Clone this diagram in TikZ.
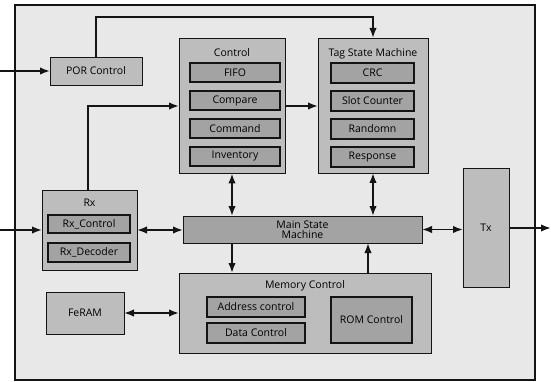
\documentclass[tikz,border=0pt]{standalone}
\usepackage{fontspec}
\setmainfont{Open Sans}
\usepackage{tikz}
\usetikzlibrary{positioning, arrows.meta}
\definecolor{paper}{gray}{0.91}
\definecolor{boxgray}{gray}{0.74}
\definecolor{subgray}{gray}{0.64}
\definecolor{dark}{gray}{0.08}

\begin{document}
\begin{tikzpicture}[x=1pt, y=-1pt,
        block/.style={rectangle, draw=dark, line width=0.9pt, fill=boxgray, outer sep=0pt, inner sep=1pt, align=center, font=\fontsize{10.5}{11}\selectfont},
        sub/.style={block, fill=subgray, line width=1.1pt},
        title/.style={anchor=north, yshift=-5pt, inner sep=1pt, font=\fontsize{10.5}{11}\selectfont},
        link/.style={dark, line width=1.8pt, -{Latex[length=10pt, width=7.5pt]}},
        both/.style={dark, line width=1.8pt, {Latex[length=10pt, width=7.5pt]}-{Latex[length=10pt, width=7.5pt]}}
    ]
        \useasboundingbox (0,0) rectangle (551,382);
        \fill[paper] (15,5) rectangle (535,380);
        \draw[dark, line width=1.1pt] (15,5) rectangle (535,380);

        \node (por) [block, minimum width=92pt, minimum height=28pt] at (96,71) {POR Control};

        \node (ctrl) [block, minimum width=106pt, minimum height=135pt, label={[title, yshift=-4pt]north:Control}] at (232,106) {};
        \node (fifo) [sub, minimum width=90pt, minimum height=19pt] at (235,72.5) {FIFO};
        \node (compare) [sub, minimum width=90pt, minimum height=19pt, below=9pt of fifo] {Compare};
        \node (command) [sub, minimum width=90pt, minimum height=19pt, below=9pt of compare] {Command};
        \node (inventory) [sub, minimum width=90pt, minimum height=19pt, below=9pt of command] {Inventory};

        \node (tag) [block, minimum width=110pt, minimum height=135pt, label={[title, yshift=-4pt]north:Tag State Machine}] at (373,105.5) {};
        \node (crc) [sub, minimum width=83pt, minimum height=20pt] at (372.5,73) {CRC};
        \node (slot) [sub, minimum width=83pt, minimum height=20pt, below=8pt of crc] {Slot Counter};
        \node (randomn) [sub, minimum width=83pt, minimum height=20pt, below=8pt of slot] {Randomn};
        \node (response) [sub, minimum width=83pt, minimum height=20pt, below=8pt of randomn] {Response};

        \node (rx) [block, minimum width=95pt, minimum height=80pt, label={[title, yshift=-3pt]north:Rx}] at (89.5,230) {};
        \node (rxctrl) [sub, minimum width=82pt, minimum height=18pt] at (89,224) {Rx\_Control};
        \node (rxdec) [sub, minimum width=82pt, minimum height=19pt, below=10pt of rxctrl] {Rx\_Decoder};

        \node (msm) [block, fill=subgray, minimum width=239pt, minimum height=27pt, font=\fontsize{10.5}{10.5}\selectfont] at (302.5,229.5) {Main State\\Machine};

        \node (mem) [block, minimum width=252pt, minimum height=80pt, label={[title, yshift=-1pt]north:Memory Control}] at (305,313) {};
        \node (addr) [sub, minimum width=98pt, minimum height=20pt] at (256,307) {Address control};
        \node (data) [sub, minimum width=98pt, minimum height=20pt, below=6pt of addr] {Data Control};
        \node (rom) [sub, minimum width=81pt, minimum height=46pt] at (371.5,320) {ROM Control};

        \node (feram) [block, minimum width=78pt, minimum height=42pt] at (85,313) {FeRAM};

        \node (tx) [block, minimum width=46pt, minimum height=119pt] at (486,227.5) {Tx};

        \coordinate (porin) at (0,71);
        \coordinate (rxin) at (0,230);
        \coordinate (txout) at (551,228);

        \draw[link] (porin) -- (por);
        \draw[link] (por.north) -- ++(0,-40) -| (tag.north);
        \draw[link] (rxin) -- (rx.west);
        \draw[link] ([xshift=-1.5pt]rx.north) |- (ctrl.west);
        \draw[link] (ctrl.east) -- (tag.west |- ctrl.east);
        \draw[both] (ctrl.south) -- (ctrl.south |- msm.north);
        \draw[both] (tag.south) -- (tag.south |- msm.north);
        \draw[both] (rx.east) -- (msm.west |- rx.east);
        \draw[link] (ctrl.south |- msm.south) -- (ctrl.south |- mem.north);
        \draw[link] ([xshift=-5pt]tag.south |- mem.north) -- ([xshift=-5pt]tag.south |- msm.south);
        \draw[both] (feram.east) -- (mem.west |- feram.east);
        \draw[both] (msm.east) -- (tx.west |- msm.east);
        \draw[link] (tx.east |- txout) -- (txout);
    \end{tikzpicture}
\end{document}
